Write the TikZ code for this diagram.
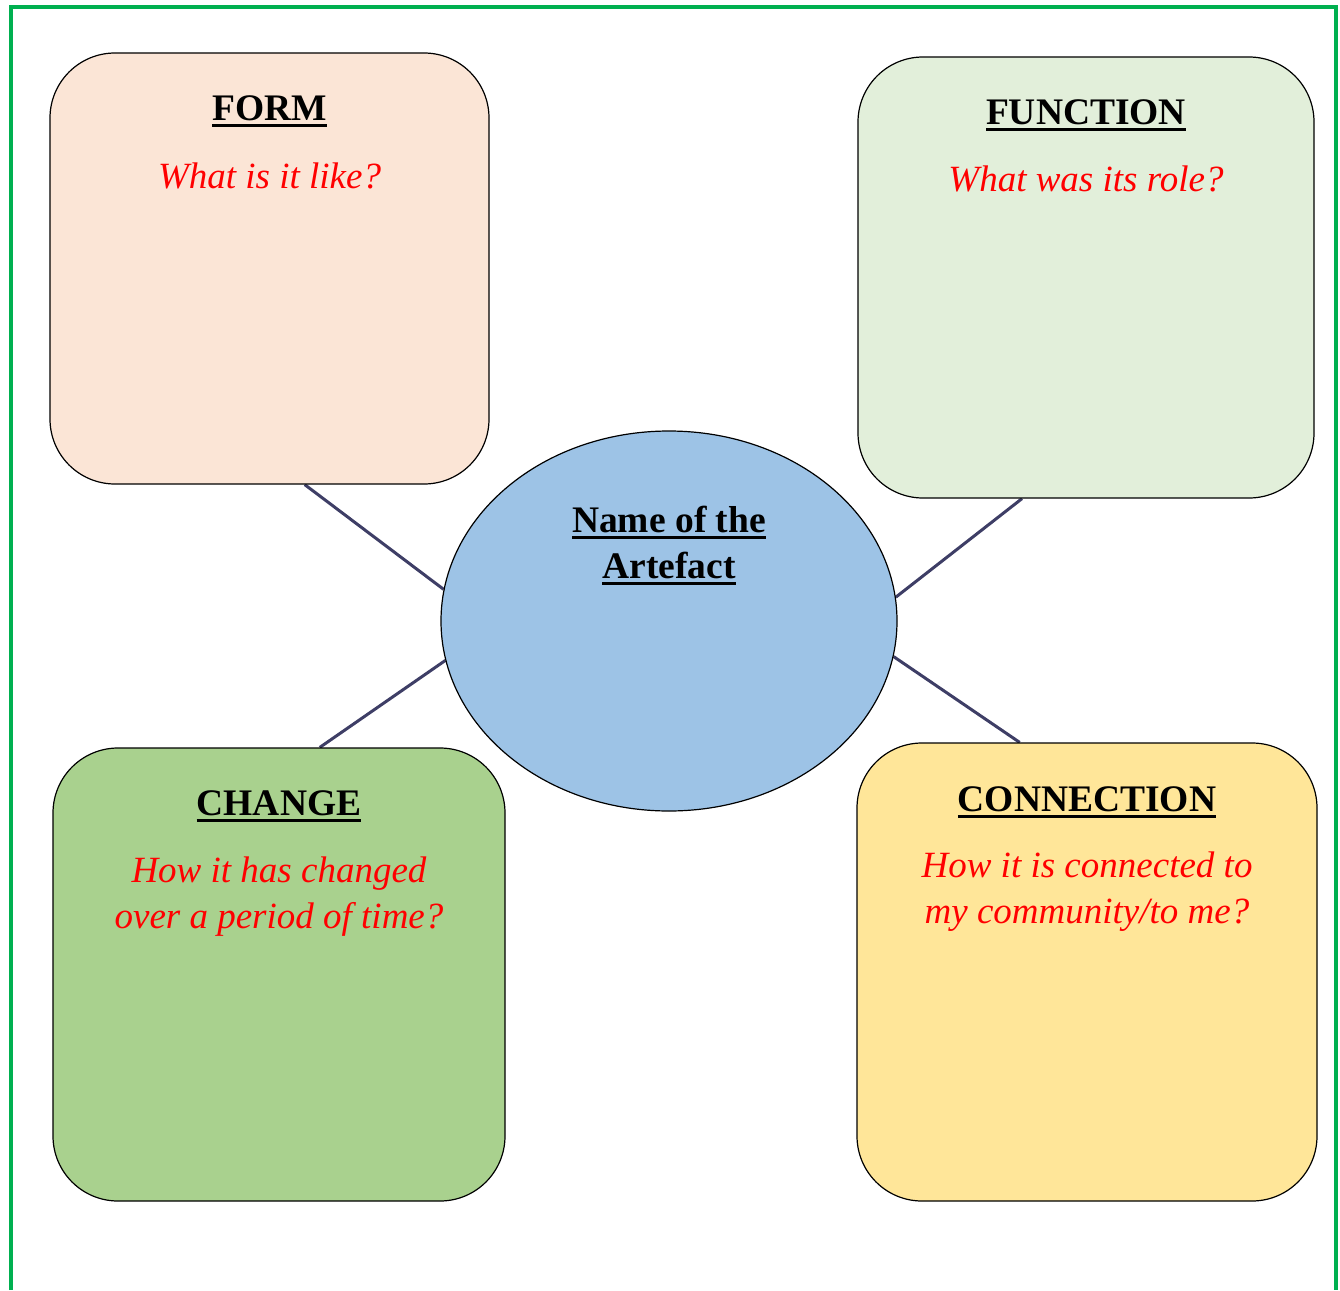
\documentclass[tikz,border=0pt]{standalone}
\usepackage{fontspec}
\setmainfont{Liberation Serif}
\usetikzlibrary{positioning,shapes.geometric,calc,backgrounds}
\definecolor{frame-green}{HTML}{00B050}
\definecolor{form-fill}{HTML}{FBE5D6}
\definecolor{function-fill}{HTML}{E2EFDA}
\definecolor{change-fill}{HTML}{A9D18E}
\definecolor{connection-fill}{HTML}{FFE699}
\definecolor{hub-fill}{HTML}{9DC3E6}
\definecolor{spoke-grey}{RGB}{62,62,102}
% thick underline under a title
\newcommand{\cueline}[1]{\setbox0\hbox{#1}\rlap{\rule[-6.5pt]{\wd0}{3pt}}\box0}
\tikzset{
    cue-box/.style = {draw=black, line width=1.2pt, rectangle, rounded corners=65pt, inner sep=0pt},
    cue-title/.style = {font=\fontsize{37.5}{46}\selectfont\bfseries, inner sep=0pt, align=center},
    cue-question/.style = {font=\fontsize{37}{46}\selectfont\itshape, text=red, inner sep=0pt, align=center},
    hub/.style = {draw=black, line width=1.2pt, fill=hub-fill, ellipse, inner sep=0pt, minimum width=456pt, minimum height=380pt},
    spoke/.style = {draw=spoke-grey, line width=3pt},
    frame-line/.style = {draw=frame-green, line width=3.5pt},
}

\begin{document}
\begin{tikzpicture}[x=1pt, y=-1pt]
\useasboundingbox (0,0) rectangle (1340,1290);
\draw[frame-line] (11,1290) -- (11,7) -- (1336,7) -- (1336,1290);

% boxes and the centre
\node[cue-box, fill=form-fill, minimum width=439pt, minimum height=431pt] (form) at (269.5,268.5) {};
\node[cue-box, fill=function-fill, minimum width=456pt, minimum height=441pt] (function) at (1086,277.5) {};
\node[cue-box, fill=change-fill, minimum width=452pt, minimum height=453pt] (change) at (279,974.5) {};
\node[cue-box, fill=connection-fill, minimum width=460pt, minimum height=458pt] (connection) at (1087,972) {};
\node[hub] (hub) at (669,621) {};

\begin{scope}[on background layer]
\draw[spoke] ($(form.south west)!0.58!(form.south east)$) -- (hub.172);
\draw[spoke] ($(change.north west)!0.59!(change.north east)$) -- (hub.190);
\draw[spoke] ($(function.south west)!0.36!(function.south east)$) -- (hub.6.5);
\draw[spoke] ($(connection.north west)!0.354!(connection.north east)$) -- (hub.351.5);
\end{scope}

% titles
\node[cue-title, below=68pt of form.north, anchor=base] (form-title) {\cueline{FORM}};
\node[cue-title, below=68pt of function.north, anchor=base] (function-title) {\cueline{FUNCTION}};
\node[cue-title, below=68pt of change.north, anchor=base] (change-title) {\cueline{CHANGE}};
\node[cue-title, below=69pt of connection.north, anchor=base] (connection-title) {\cueline{CONNECTION}};
\node[cue-title, below=148pt of hub.north, anchor=base] (hub-title) {\cueline{Name of the}\\\cueline{Artefact}};

% questions
\node[cue-question, below=136pt of form.north, anchor=base] (form-question) {What is it like?};
\node[cue-question, below=135pt of function.north, anchor=base] (function-question) {What was its role?};
\node[cue-question, below=181pt of change.north, anchor=base] (change-question) {How it has changed\\over a period of time?};
\node[cue-question, below=181pt of connection.north, anchor=base] (connection-question) {How it is connected to\\my community/to me?};
\end{tikzpicture}
\end{document}
